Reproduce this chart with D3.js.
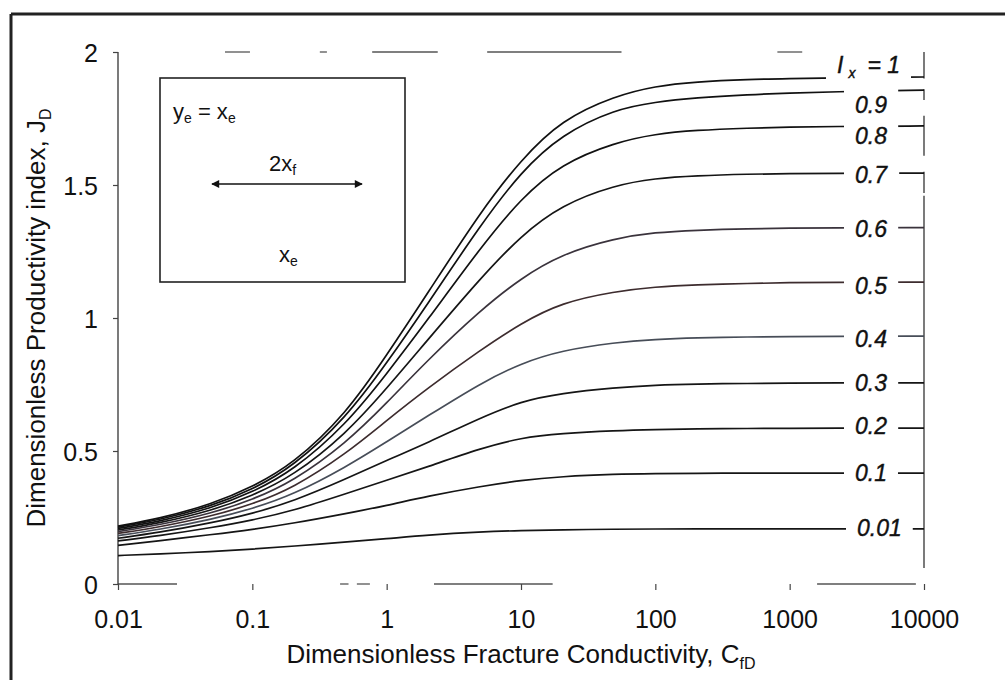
<!DOCTYPE html>
<html>
<head>
<meta charset="utf-8">
<script src="https://cdn.jsdelivr.net/npm/d3@7"></script>
<style>
  html, body { margin: 0; padding: 0; background: #fff; }
  svg { display: block; font-family: "Liberation Sans", Arial, sans-serif; }
</style>
</head>
<body>
<svg id="chart" width="1005" height="680"></svg>
<script>
// ---------------- data ----------------
const cfd = [0.01, 0.02, 0.05, 0.1, 0.2, 0.5, 1, 2, 5, 10, 20, 50, 100, 200, 500, 1000, 2000, 10000];
const ixLabels = ["1", "0.9", "0.8", "0.7", "0.6", "0.5", "0.4", "0.3", "0.2", "0.1", "0.01"];
const jd_1   = [0.218, 0.245, 0.300, 0.365, 0.450, 0.640, 0.860, 1.090, 1.400, 1.595, 1.745, 1.835, 1.872, 1.888, 1.897, 1.900, 1.903, 1.906];
const jd_09  = [0.214, 0.240, 0.293, 0.355, 0.440, 0.625, 0.830, 1.050, 1.350, 1.550, 1.690, 1.785, 1.812, 1.828, 1.840, 1.846, 1.850, 1.857];
const jd_08  = [0.209, 0.234, 0.285, 0.345, 0.425, 0.600, 0.790, 0.990, 1.265, 1.450, 1.580, 1.660, 1.692, 1.706, 1.714, 1.718, 1.720, 1.722];
const jd_07  = [0.203, 0.228, 0.276, 0.332, 0.405, 0.565, 0.735, 0.915, 1.150, 1.310, 1.425, 1.500, 1.525, 1.535, 1.541, 1.543, 1.544, 1.545];
const jd_06  = [0.197, 0.221, 0.266, 0.317, 0.385, 0.530, 0.680, 0.840, 1.030, 1.150, 1.240, 1.300, 1.322, 1.330, 1.336, 1.338, 1.339, 1.340];
const jd_05  = [0.190, 0.213, 0.255, 0.300, 0.360, 0.490, 0.615, 0.735, 0.880, 0.980, 1.058, 1.100, 1.117, 1.125, 1.130, 1.133, 1.134, 1.135];
const jd_04  = [0.182, 0.204, 0.243, 0.283, 0.335, 0.440, 0.535, 0.630, 0.755, 0.830, 0.878, 0.908, 0.920, 0.926, 0.929, 0.930, 0.931, 0.932];
const jd_03  = [0.172, 0.193, 0.230, 0.265, 0.310, 0.395, 0.465, 0.530, 0.625, 0.687, 0.717, 0.738, 0.748, 0.752, 0.754, 0.755, 0.756, 0.756];
const jd_02  = [0.162, 0.181, 0.212, 0.240, 0.275, 0.340, 0.390, 0.440, 0.510, 0.550, 0.566, 0.577, 0.581, 0.583, 0.585, 0.585, 0.586, 0.586];
const jd_01  = [0.145, 0.162, 0.186, 0.205, 0.228, 0.265, 0.295, 0.330, 0.367, 0.390, 0.404, 0.413, 0.415, 0.416, 0.417, 0.417, 0.417, 0.417];
const jd_001 = [0.107, 0.113, 0.122, 0.131, 0.142, 0.158, 0.170, 0.184, 0.196, 0.201, 0.204, 0.206, 0.207, 0.207, 0.207, 0.207, 0.207, 0.207];
const xTicks = [0.01, 0.1, 1, 10, 100, 1000, 10000];
const xTickLabels = ["0.01", "0.1", "1", "10", "100", "1000", "10000"];
const yTicks = [0, 0.5, 1, 1.5, 2];
const yTickLabels = ["0", "0.5", "1", "1.5", "2"];

// ---------------- layout / style ----------------
const seriesList = [jd_1, jd_09, jd_08, jd_07, jd_06, jd_05, jd_04, jd_03, jd_02, jd_01, jd_001];
const lineColors = ["#111", "#111", "#111", "#151515", "#3a333c", "#3d2c2e", "#474d58", "#151515", "#151515", "#151515", "#151515"];
const labelDy = [-12, 15, 10, 2, 1, 4, 3, 0, -2, 0, -1];   // label centre offset from curve end (px)
const margin = { left: 118, right: 924, top: 52, bottom: 584 };

const svg = d3.select("#chart");
const x = d3.scaleLog().domain([0.01, 10000]).range([margin.left, margin.right]);
const y = d3.scaleLinear().domain([0, 2]).range([margin.bottom, margin.top]);

// outer frame (top and left edges of the scanned figure)
svg.append("line").attr("x1", 11).attr("x2", 1005).attr("y1", 14).attr("y2", 14)
  .attr("stroke", "#222").attr("stroke-width", 3);
svg.append("line").attr("x1", 11).attr("x2", 11).attr("y1", 14).attr("y2", 680)
  .attr("stroke", "#222").attr("stroke-width", 3);

// broken top frame line and bottom axis line (as in the scan)
const topSegs = [[0.0626, 0.096], [0.318, 0.359], [0.78, 2.4], [5.6, 56], [810, 1240]];
const botSegs = [[0.01, 0.0275], [0.45, 0.52], [0.6, 0.75], [2.25, 17.2], [1600, 8700]];
topSegs.forEach(s => svg.append("line").attr("x1", x(s[0])).attr("x2", x(s[1]))
  .attr("y1", y(2)).attr("y2", y(2)).attr("stroke", "#555").attr("stroke-width", 1.3));
botSegs.forEach(s => svg.append("line").attr("x1", x(s[0])).attr("x2", x(s[1]))
  .attr("y1", y(0)).attr("y2", y(0)).attr("stroke", "#555").attr("stroke-width", 1.3));

// right frame line (segments)
const rightSegs = [[2.0, 1.9], [1.86, 1.82], [1.76, 1.61], [1.55, 1.47], [1.46, 0.06]];
rightSegs.forEach(s => svg.append("line").attr("x1", x(10000)).attr("x2", x(10000))
  .attr("y1", y(s[0])).attr("y2", y(s[1])).attr("stroke", "#333").attr("stroke-width", 1.3));

// x axis ticks + labels
const xAxis = d3.axisBottom(x).tickValues(xTicks).tickSize(6)
  .tickFormat((d, i) => xTickLabels[i]);
const gx = svg.append("g").attr("transform", `translate(0,${y(0)})`).call(xAxis);
gx.select(".domain").remove();
gx.selectAll(".tick line").attr("stroke", "#444").attr("stroke-width", 1.2);
gx.selectAll(".tick text").attr("font-size", 25).attr("fill", "#111")
  .attr("font-family", "Liberation Sans, Arial, sans-serif").attr("y", 26).attr("dy", "0.71em");

// y axis
const yAxis = d3.axisLeft(y).tickValues(yTicks).tickSize(5)
  .tickFormat((d, i) => yTickLabels[i]);
const gy = svg.append("g").attr("transform", `translate(${x(0.01)},0)`).call(yAxis);
gy.select(".domain").attr("stroke", "#333").attr("stroke-width", 1.3).attr("d", `M0,${y(2)}V${y(0)}`);
gy.selectAll(".tick line").attr("stroke", "#444").attr("stroke-width", 1.2);
gy.selectAll(".tick text").attr("font-size", 25).attr("fill", "#111")
  .attr("font-family", "Liberation Sans, Arial, sans-serif").attr("x", -20).attr("dy", "0.36em");

// curves
const line = d3.line().x(d => x(d[0])).y(d => y(d[1])).curve(d3.curveBasis);
seriesList.forEach((s, i) => {
  svg.append("path").datum(cfd.map((c, j) => [c, s[j]]))
    .attr("d", line).attr("fill", "none")
    .attr("stroke", lineColors[i]).attr("stroke-width", 1.7);
});

// curve labels with white masks
const labelX = 855;
seriesList.forEach((s, i) => {
  const yEnd = y(s[s.length - 1]);
  const cy = yEnd + labelDy[i];
  const g = svg.append("g");
  const mask = g.append("rect").attr("fill", "#fff");
  let t;
  if (i === 0) {
    t = g.append("text").attr("x", labelX - 18).attr("y", cy + 8)
      .attr("font-size", 23).attr("font-style", "italic").attr("fill", "#111");
    t.append("tspan").text("I");
    t.append("tspan").attr("font-size", 14).attr("dx", 5).attr("dy", 5).text("x");
    t.append("tspan").attr("dx", 12).attr("dy", -5).text("= 1");
  } else {
    t = g.append("text").attr("x", labelX + (i === 10 ? 2 : 0)).attr("y", cy + 8)
      .attr("font-size", 23).attr("font-style", "italic").attr("fill", "#111")
      .text(ixLabels[i]);
  }
  t.attr("stroke", "#111").attr("stroke-width", 0.4);
  const bb = t.node().getBBox();
  const top = Math.min(bb.y + 3, yEnd - 3);
  const bot = Math.max(bb.y + bb.height - 3, yEnd + 3);
  mask.attr("x", bb.x - 11).attr("width", bb.width + 22)
    .attr("y", top).attr("height", bot - top);
});

// axis titles
const xt = svg.append("text").attr("x", (margin.left + margin.right) / 2).attr("y", 663)
  .attr("text-anchor", "middle").attr("font-size", 26).attr("fill", "#111");
xt.append("tspan").text("Dimensionless Fracture Conductivity, C");
xt.append("tspan").attr("font-size", 16).attr("dy", 6).text("fD");

const yt = svg.append("text")
  .attr("transform", `translate(45,${(margin.top + margin.bottom) / 2}) rotate(-90)`)
  .attr("text-anchor", "middle").attr("font-size", 26).attr("fill", "#111");
yt.append("tspan").text("Dimensionless Productivity index, J");
yt.append("tspan").attr("font-size", 16).attr("dy", 6).text("D");

// inset sketch
const inset = svg.append("g");
inset.append("rect").attr("x", 160).attr("y", 78).attr("width", 245).attr("height", 204)
  .attr("fill", "#fff").attr("stroke", "#222").attr("stroke-width", 1.6);
const t1 = inset.append("text").attr("x", 173).attr("y", 119).attr("font-size", 22).attr("fill", "#111");
t1.append("tspan").text("y");
t1.append("tspan").attr("font-size", 14).attr("dy", 4).text("e");
t1.append("tspan").attr("dy", -4).text(" = x");
t1.append("tspan").attr("font-size", 14).attr("dy", 4).text("e");
const t2 = inset.append("text").attr("x", 269).attr("y", 171).attr("font-size", 22).attr("fill", "#111");
t2.append("tspan").text("2x");
t2.append("tspan").attr("font-size", 14).attr("dy", 4).text("f");
const t3 = inset.append("text").attr("x", 279).attr("y", 262).attr("font-size", 22).attr("fill", "#111");
t3.append("tspan").text("x");
t3.append("tspan").attr("font-size", 14).attr("dy", 4).text("e");
const defs = svg.append("defs");
defs.append("marker").attr("id", "ah").attr("viewBox", "0 0 10 10").attr("refX", 9).attr("refY", 5)
  .attr("markerWidth", 11).attr("markerHeight", 8).attr("markerUnits", "userSpaceOnUse")
  .attr("orient", "auto-start-reverse")
  .append("path").attr("d", "M0,0L10,5L0,10Z").attr("fill", "#111");
inset.append("line").attr("x1", 212).attr("x2", 362).attr("y1", 184).attr("y2", 184)
  .attr("stroke", "#111").attr("stroke-width", 1.6)
  .attr("marker-start", "url(#ah)").attr("marker-end", "url(#ah)");
</script>
</body>
</html>
